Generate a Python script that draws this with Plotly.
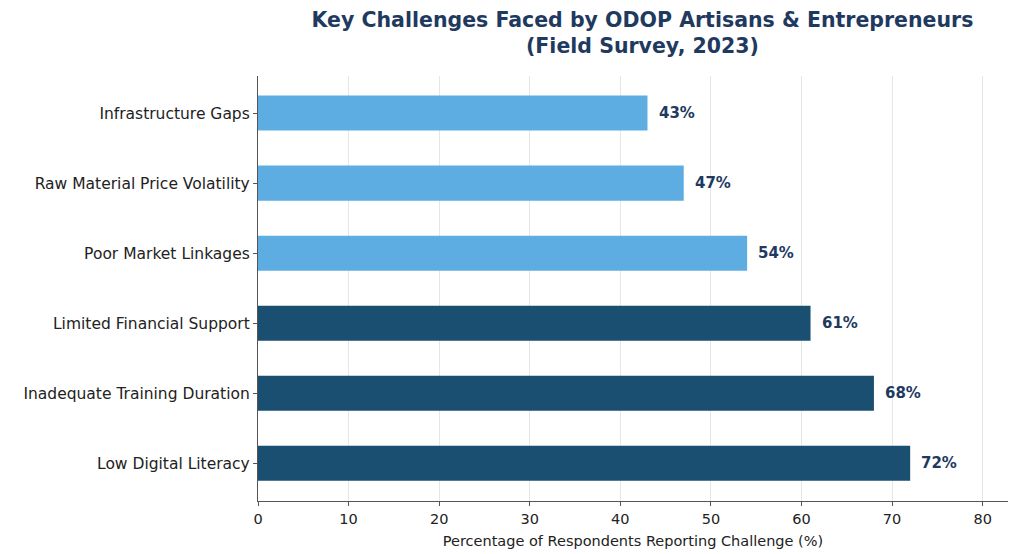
import plotly.graph_objects as go

categories = ["Low Digital Literacy", "Inadequate Training Duration", "Limited Financial Support",
              "Poor Market Linkages", "Raw Material Price Volatility", "Infrastructure Gaps"]
values = [72, 68, 61, 54, 47, 43]
colors = ["#1b4f72", "#1b4f72", "#1b4f72", "#5dade2", "#5dade2", "#5dade2"]
x_ticks = [0, 10, 20, 30, 40, 50, 60, 70, 80]

fig = go.Figure()
fig.add_trace(go.Bar(
    y=list(range(len(categories))), x=values, orientation="h",
    marker=dict(color=colors, line=dict(width=0)), width=0.5,
    hoverinfo="skip",
))

for i, v in enumerate(values):
    fig.add_annotation(x=v + 1, y=i, text=f"<b>{v}%</b>", showarrow=False,
                       xanchor="left", yanchor="middle",
                       font=dict(family="DejaVu Sans", size=15, color="#1f3a5f"))

fig.update_layout(
    width=1015, height=554,
    margin=dict(l=258, r=7, t=76, b=51),
    paper_bgcolor="white", plot_bgcolor="white",
    showlegend=False,
    font=dict(family="DejaVu Sans", size=15, color="#222222"),
    title=dict(text="<b>Key Challenges Faced by ODOP Artisans & Entrepreneurs<br>(Field Survey, 2023)</b>",
               x=0.633, xanchor="center", y=0.952, yanchor="middle",
               font=dict(family="DejaVu Sans", size=20.5, color="#1f3a5f")),
    xaxis=dict(range=[0, 82.8], tickvals=x_ticks, showgrid=True, gridcolor="#e6e6e6", gridwidth=1,
               zeroline=False, showline=True, linecolor="#555555", linewidth=1.2,
               ticks="outside", ticklen=4, tickcolor="#555555",
               title=dict(text="Percentage of Respondents Reporting Challenge (%)", standoff=10,
                          font=dict(size=14.5)),
               tickfont=dict(size=14.5)),
    yaxis=dict(range=[-0.54, 5.53], tickvals=list(range(len(categories))), ticktext=categories,
               showgrid=False, zeroline=False, showline=True, linecolor="#555555", linewidth=1.2,
               ticks="outside", ticklen=4, tickcolor="#555555", tickfont=dict(size=15.5)),
)

fig.write_html("out.html")
